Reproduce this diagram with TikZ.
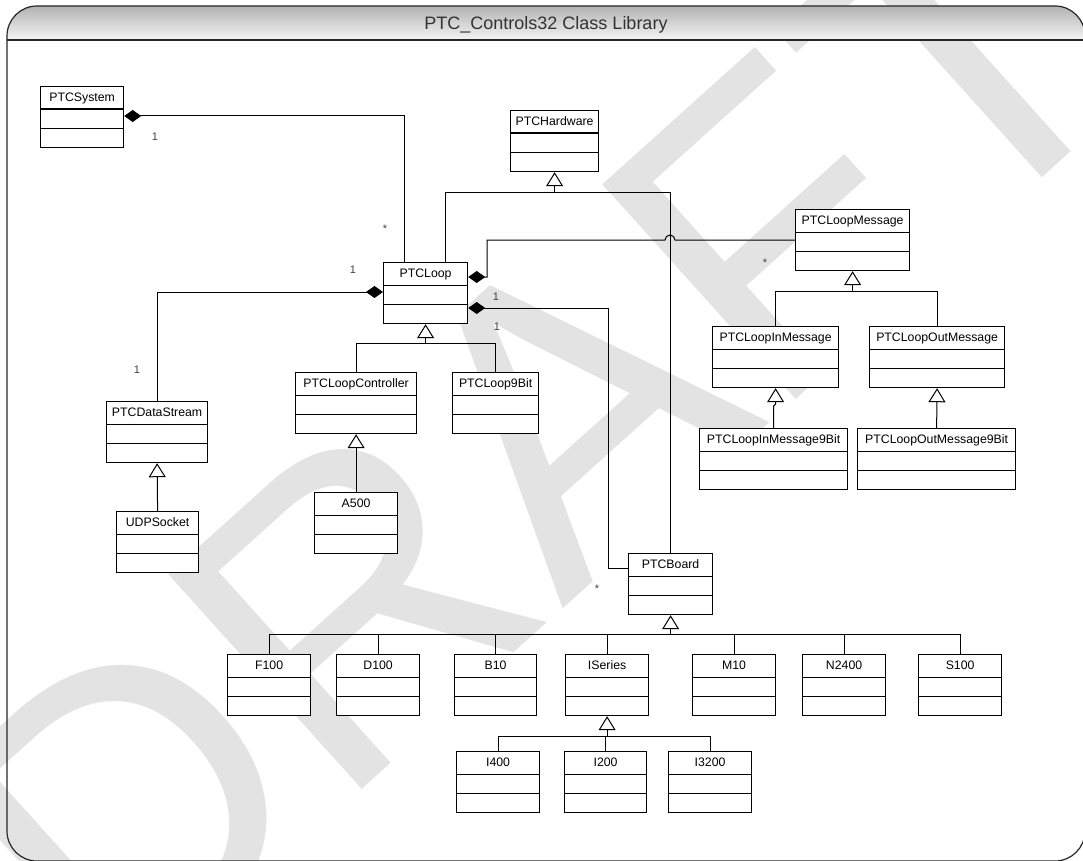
\documentclass[tikz,border=0pt]{standalone}
\usepackage{fontspec}
\setmainfont{Liberation Sans}
\usetikzlibrary{arrows.meta}

\begin{document}
\begin{tikzpicture}
  [x=1pt,y=-1pt,every node/.style={inner sep=0pt},
   cls/.style={draw,fill=white,line width=1.2pt,anchor=north west,
     minimum width=#1,minimum height=61pt,text height=14.5pt,text depth=46.5pt,
     font=\fontsize{12.3}{12.3}\selectfont,
     path picture={\draw[line width=1.2pt]
       ([yshift=-22.5pt]path picture bounding box.north west) -- ([yshift=-22.5pt]path picture bounding box.north east)
       ([yshift=-42pt]path picture bounding box.north west) -- ([yshift=-42pt]path picture bounding box.north east);}},
   mult/.style={font=\fontsize{11}{11}\selectfont,text=black!75},
   link/.style={line width=1pt},
   comp/.style={link,{Diamond[length=17pt,width=12pt]}-},
   gen/.style={link,-{Triangle[open,length=14pt,width=17pt]}}]
  \useasboundingbox (0,0) rectangle (1083,861);

  \node[rotate=42,text=black!11,font=\fontsize{420}{420}\selectfont] (wm) at (535,440) {DRAFT};

  \shade[top color=black!30,bottom color=black!4] (7,40) -- (7,36) arc[start angle=180,end angle=90,radius=30pt]
    -- (1055,6) arc[start angle=90,end angle=0,radius=30pt] -- (1085,40) -- cycle;
  \draw[line width=1.2pt,black!85,rounded corners=30pt] (7,6) rectangle (1085,861);
  \draw[line width=1.2pt,black!85] (7,40) -- (1085,40);
  \node[anchor=base,font=\fontsize{18}{18}\selectfont,text=black!80] (title) at (546,30) {PTC\_Controls32 Class Library};

  \node[cls=83pt]  (sys)    at (40,86)   {PTCSystem};
  \node[cls=88pt]  (hw)     at (510,110) {PTCHardware};
  \node[cls=84pt]  (loop)   at (383,262) {PTCLoop};
  \node[cls=114pt] (msg)    at (795,209) {PTCLoopMessage};
  \node[cls=126pt] (inmsg)  at (712,326) {PTCLoopInMessage};
  \node[cls=135pt] (outmsg) at (869,326) {PTCLoopOutMessage};
  \node[cls=148pt] (in9)    at (699,428) {PTCLoopInMessage9Bit};
  \node[cls=158pt] (out9)   at (857,428) {PTCLoopOutMessage9Bit};
  \node[cls=101pt] (ds)     at (106,401) {PTCDataStream};
  \node[cls=82pt]  (udp)    at (116,511) {UDPSocket};
  \node[cls=121pt] (ctrl)   at (295,372) {PTCLoopController};
  \node[cls=86pt]  (nine)   at (452,372) {PTCLoop9Bit};
  \node[cls=83pt]  (a500)   at (314,492) {A500};
  \node[cls=84pt]  (board)  at (628,553) {PTCBoard};
  \node[cls=83pt]  (f100)   at (227,654) {F100};
  \node[cls=83pt]  (d100)   at (336,654) {D100};
  \node[cls=82pt]  (b10)    at (454,654) {B10};
  \node[cls=83pt]  (iser)   at (565,654) {ISeries};
  \node[cls=83pt]  (m10)    at (692,654) {M10};
  \node[cls=83pt]  (n2400)  at (802,654) {N2400};
  \node[cls=83pt]  (s100)   at (918,654) {S100};
  \node[cls=83pt]  (i400)   at (456,751) {I400};
  \node[cls=82pt]  (i200)   at (564,751) {I200};
  \node[cls=83pt]  (i3200)  at (668,751) {I3200};

  \node[mult] (m1) at (155,137) {1};
  \node[mult] (m2) at (385,229) {*};
  \node[mult] (m3) at (353,270) {1};
  \node[mult] (m4) at (137,370) {1};
  \node[mult] (m5) at (496,297) {1};
  \node[mult] (m6) at (497,327) {1};
  \node[mult] (m7) at (765,263) {*};
  \node[mult] (m8) at (597,589) {*};

  \draw[comp] (sys.east |- 0,116) -| (loop.north -| 404,0);
  \draw[comp] (loop.east |- 0,277) -| (487,240) -- (665,240) arc[start angle=180,end angle=0,radius=5pt] -- (msg.west |- 0,240);
  \draw[comp] (loop.east |- 0,308) -| (608,568) -- (board.west |- 0,568);
  \draw[comp] (loop.west |- 0,292) -| (ds.north);

  \draw[link] (loop.north -| 445,0) |- (board.north |- 0,192) -- (board.north);
  \draw[gen] (hw.south |- 0,192) -- (hw.south);
  \draw[link] (ctrl.north) |- (nine.north |- 0,343) -- (nine.north);
  \draw[gen] (loop.south |- 0,343) -- (loop.south);
  \draw[link] (inmsg.north) |- (outmsg.north |- 0,291) -- (outmsg.north);
  \draw[gen] (msg.south |- 0,291) -- (msg.south);
  \draw[link] (f100.north) |- (s100.north |- 0,634) -- (s100.north);
  \foreach \n in {d100,b10,iser,m10,n2400}
    \draw[link] (\n.north) -- (\n.north |- 0,634);
  \draw[gen] (board.south |- 0,634) -- (board.south);
  \draw[link] (i400.north) |- (i3200.north |- 0,736) -- (i3200.north);
  \draw[link] (i200.north) -- (i200.north |- 0,736);
  \draw[gen] (iser.south |- 0,736) -- (iser.south);

  \foreach \from/\to in {udp/ds,a500/ctrl,out9/outmsg}
    \draw[gen] (\from.north) -- (\to.south);
  \draw[gen] (in9.north) -- ++(0,-22) -- ++(2,-2) -- (inmsg.south);
\end{tikzpicture}
\end{document}
